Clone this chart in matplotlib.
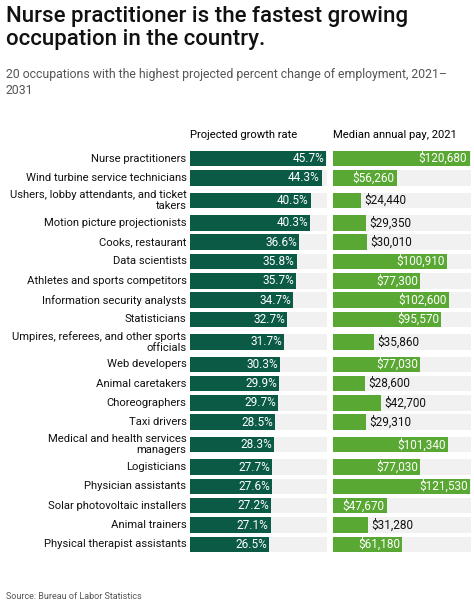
import matplotlib
matplotlib.use("Agg")
import matplotlib.pyplot as plt

plt.rcParams['font.family'] = ['Roboto', 'DejaVu Sans']

occupations = ["Nurse practitioners", "Wind turbine service technicians",
    "Ushers, lobby attendants, and ticket\ntakers", "Motion picture projectionists",
    "Cooks, restaurant", "Data scientists", "Athletes and sports competitors",
    "Information security analysts", "Statisticians",
    "Umpires, referees, and other sports\nofficials", "Web developers", "Animal caretakers",
    "Choreographers", "Taxi drivers", "Medical and health services\nmanagers",
    "Logisticians", "Physician assistants", "Solar photovoltaic installers",
    "Animal trainers", "Physical therapist assistants"]
growth = [45.7, 44.3, 40.5, 40.3, 36.6, 35.8, 35.7, 34.7, 32.7, 31.7, 30.3, 29.9, 29.7,
          28.5, 28.3, 27.7, 27.6, 27.2, 27.1, 26.5]
pay = [120680, 56260, 24440, 29350, 30010, 100910, 77300, 102600, 95570, 35860, 77030,
       28600, 42700, 29310, 101340, 77030, 121530, 47670, 31280, 61180]

dark = "#0b5a45"
light = "#5aa834"
track = "#f1f1f1"
W, H = 474, 607
fig = plt.figure(figsize=(W/100, H/100), dpi=100)
fig.patch.set_facecolor("white")

fig.text(6/W, 1-6/H, "Nurse practitioner is the fastest growing\noccupation in the country.",
         fontsize=16, fontweight="medium", va="top", ha="left", color="#111111", linespacing=1.12)
fig.text(6/W, 1-68/H, "20 occupations with the highest projected percent change of employment, 2021–\n2031",
         fontsize=8.8, va="top", ha="left", color="#555555", linespacing=1.35)
fig.text(6/W, 1-601/H, "Source: Bureau of Labor Statistics", fontsize=6.5, color="#555555", va="bottom")

heights = [1.33 if "\n" in o else 1.0 for o in occupations]
centers = []
y = 0
for h in heights:
    centers.append(y + h/2)
    y += h
total = y

top_px, bot_px = 149, 554
ax1 = fig.add_axes([190/W, 1-bot_px/H, 137/W, (bot_px-top_px)/H])
ax2 = fig.add_axes([333/W, 1-bot_px/H, 138/W, (bot_px-top_px)/H])
gmax, pmax = 46.0, 122000
for ax, vals, xm, col in [(ax1, growth, gmax, dark), (ax2, pay, pmax, light)]:
    ax.set_xlim(0, xm)
    ax.set_ylim(total, 0)
    ax.axis("off")
    ax.barh(centers, [xm]*len(vals), height=0.8, color=track)
    ax.barh(centers, vals, height=0.8, color=col)

for c, g in zip(centers, growth):
    ax1.text(g - 0.7, c, f"{g}%", color="white", ha="right", va="center", fontsize=8.5)
for c, p in zip(centers, pay):
    s = f"${p:,}"
    if p > 45000:
        ax2.text(p - 2000, c, s, color="white", ha="right", va="center", fontsize=8.5)
    else:
        ax2.text(p + 3000, c, s, color="#111111", ha="left", va="center", fontsize=8.5)
for c, o in zip(centers, occupations):
    ax1.text(-1.2, c, o, ha="right", va="center", fontsize=8.1, color="#111111",
             linespacing=1.15, multialignment="right")

ax1.text(0, -0.45, "Projected growth rate", ha="left", va="bottom", fontsize=8.1)
ax2.text(0, -0.45, "Median annual pay, 2021", ha="left", va="bottom", fontsize=8.1)

fig.savefig("out.png", dpi=100)
